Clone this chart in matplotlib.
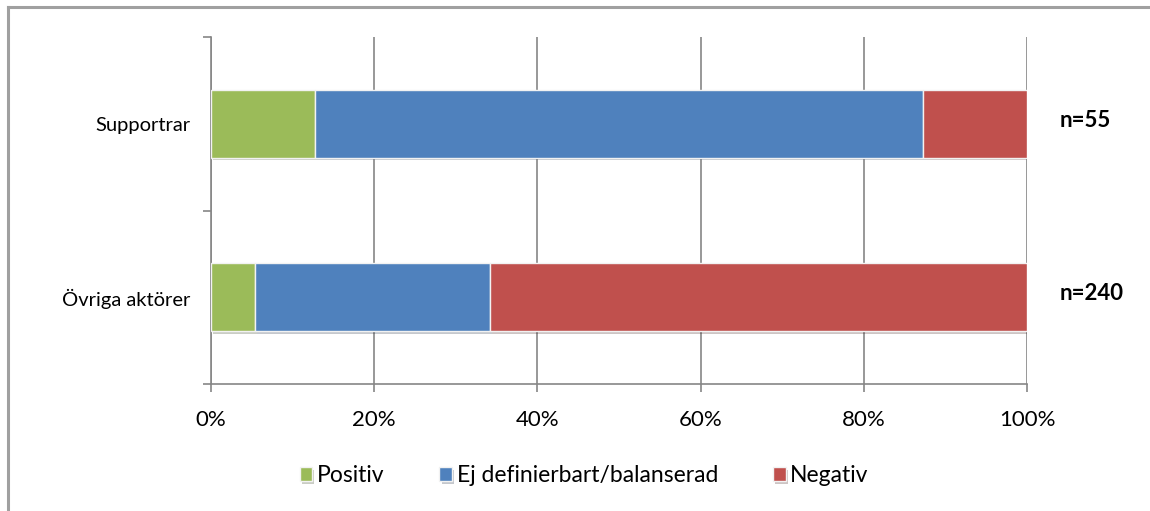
import matplotlib.pyplot as plt
import matplotlib.patheffects as pe
from matplotlib.lines import Line2D
import numpy as np

plt.rcParams['font.family'] = ['Lato', 'DejaVu Sans']

groups = ['Supportrar', 'Övriga aktörer']
n_labels = ['n=55', 'n=240']
positiv = [12.7, 5.4]
ej_def = [74.6, 28.8]
negativ = [12.7, 65.8]
series_names = ['Positiv', 'Ej definierbart/balanserad', 'Negativ']
colors = ['#9bbb59', '#4f81bd', '#c0504d']

fig = plt.figure(figsize=(11.5, 5.11), dpi=100)
ax = fig.add_axes([211/1150, 1-384/511, (1027-211)/1150, (384-37)/511])

# chart frame: only top and left edge are visible in the crop
fx, fy = 7.5/1150, 1-7.5/511
fig.lines.append(Line2D([fx, 1.0], [fy, fy], transform=fig.transFigure,
                        color='#a0a0a0', linewidth=2.2))
fig.lines.append(Line2D([fx, fx], [0.0, fy], transform=fig.transFigure,
                        color='#a0a0a0', linewidth=2.2))

y = np.arange(len(groups))
left = np.zeros(len(groups))
shadow = [pe.SimplePatchShadow(offset=(1.5, -2), alpha=0.25), pe.Normal()]
for vals, name, col in zip([positiv, ej_def, negativ], series_names, colors):
    bars = ax.barh(y, vals, left=left, height=0.39, color=col, edgecolor='#f2f2f2',
                   linewidth=1, label=name, zorder=3)
    for b in bars:
        b.set_path_effects(shadow)
    left = left + np.array(vals)

ax.set_xlim(0, 100)
ax.set_ylim(1.5, -0.5)
ax.set_xticks(np.arange(0, 101, 20))
ax.set_xticklabels([f'{v}%' for v in range(0, 101, 20)], fontsize=16)
ax.set_yticks([-0.5, 0.5, 1.5])
ax.set_yticklabels([])
ax.set_yticks(y, minor=True)
ax.set_yticklabels(groups, minor=True, fontsize=14.5)
ax.tick_params(axis='y', which='minor', length=0, pad=15)
ax.tick_params(axis='y', which='major', length=6, color='#868686', width=1.2)
ax.tick_params(axis='x', length=6, color='#868686', width=1.2, pad=13)
ax.grid(axis='x', color='#868686', linewidth=1.2, zorder=0)
ax.set_axisbelow(True)
for s in ['top', 'right']:
    ax.spines[s].set_visible(False)
ax.spines['left'].set_color('#868686')
ax.spines['bottom'].set_color('#868686')
ax.spines['left'].set_linewidth(1.2)
ax.spines['bottom'].set_linewidth(1.2)

for yi, lab in zip(y, n_labels):
    ax.text(104, yi - 0.02, lab, fontsize=16, fontweight='bold', va='center', ha='left')

fig.legend(loc='center', bbox_to_anchor=(0.508, 1-476/511), ncol=3, frameon=False,
           fontsize=16.5, handlelength=0.55, handleheight=0.55, handletextpad=0.2,
           columnspacing=2.4)

fig.savefig('out.png', dpi=100)
